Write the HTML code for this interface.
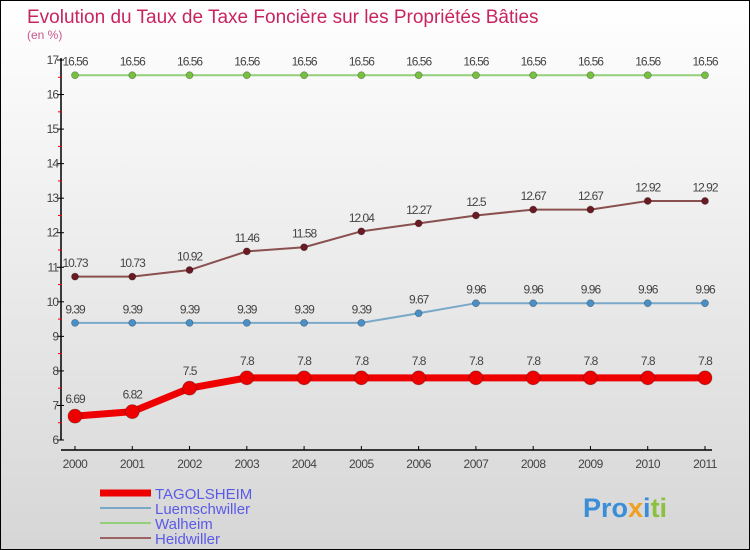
<!DOCTYPE html>
<html><head><meta charset="utf-8"><style>
body{margin:0}
#c{width:750px;height:550px;position:relative;overflow:hidden;box-sizing:border-box;border:1px solid #000;background:linear-gradient(#ffffff,#d6d6d6);font-family:"Liberation Sans",sans-serif}
</style></head><body>
<div id="c">
<svg width="750" height="550" style="position:absolute;left:-1px;top:-1px" id="svg">
<text x="27" y="23" font-size="19" fill="#c8245f">Evolution du Taux de Taxe Foncière sur les Propriétés Bâties</text>
<text x="27" y="39" font-size="12" fill="#c8588a">(en %)</text>
<g id="axes"></g><g id="series"></g>
<g>
<line x1="100" y1="493" x2="151" y2="493" stroke="#e00" stroke-width="7"/>
<text x="155" y="499" font-size="15" fill="#5a5ae8">TAGOLSHEIM</text>
<line x1="100" y1="508" x2="151" y2="508" stroke="#79a8c8" stroke-width="2"/>
<text x="155" y="514" font-size="15" fill="#5a5ae8">Luemschwiller</text>
<line x1="100" y1="523" x2="151" y2="523" stroke="#94d07a" stroke-width="2"/>
<text x="155" y="529" font-size="15" fill="#5a5ae8">Walheim</text>
<line x1="100" y1="538" x2="151" y2="538" stroke="#9a6464" stroke-width="2"/>
<text x="155" y="544" font-size="15" fill="#5a5ae8">Heidwiller</text>
</g>
<text x="583" y="517" font-size="27" font-weight="bold" fill="#3a8ed8">Pro<tspan fill="#f0a020">x</tspan><tspan fill="#3a8ed8">i</tspan><tspan fill="#8cc040">ti</tspan></text>
</svg>
</div>
<script>
const years=[2000,2001,2002,2003,2004,2005,2006,2007,2008,2009,2010,2011];
const tagolsheim=[6.69,6.82,7.5,7.8,7.8,7.8,7.8,7.8,7.8,7.8,7.8,7.8];
const luemschwiller=[9.39,9.39,9.39,9.39,9.39,9.39,9.67,9.96,9.96,9.96,9.96,9.96];
const walheim=[16.56,16.56,16.56,16.56,16.56,16.56,16.56,16.56,16.56,16.56,16.56,16.56];
const heidwiller=[10.73,10.73,10.92,11.46,11.58,12.04,12.27,12.5,12.67,12.67,12.92,12.92];
const yTicks=[6,7,8,9,10,11,12,13,14,15,16,17];
const NS="http://www.w3.org/2000/svg";
const x=i=>75+i*(630/(years.length-1));
const y=v=>440-(v-6)*(380/11);
function mk(t,a,p){const e=document.createElementNS(NS,t);for(const k in a)e.setAttribute(k,a[k]);p.appendChild(e);return e;}
const ax=document.getElementById('axes');
let l=mk('line',{x1:61,y1:58,x2:61,y2:440,stroke:'#000','stroke-width':1.5},ax);

l=mk('line',{x1:61,y1:450,x2:712,y2:450,stroke:'#000','stroke-width':1.5},ax);

yTicks.forEach(v=>{mk('line',{x1:57,y1:y(v),x2:64,y2:y(v),stroke:'#000'},ax);
if(v<17)mk('line',{x1:58,y1:y(v+0.5),x2:62,y2:y(v+0.5),stroke:'#e00'},ax);
const t=mk('text',{x:58,y:y(v)+4,'font-size':12,fill:'#444','text-anchor':'end','letter-spacing':'-1'},ax);t.textContent=v;
});
years.forEach((yr,i)=>{mk('line',{x1:x(i),y1:446,x2:x(i),y2:450,stroke:'#000'},ax);
const t=mk('text',{x:x(i),y:468,'font-size':12,fill:'#444','text-anchor':'middle','letter-spacing':'-0.5'},ax);t.textContent=yr;
});
const sg=document.getElementById('series');
function series(name,vals,col,dot,w,r){
const g=mk('g',{},sg);
const p=mk('polyline',{points:vals.map((v,i)=>x(i)+','+y(v)).join(' '),fill:'none',stroke:col,'stroke-width':w,'stroke-linejoin':'round'},g);

vals.forEach((v,i)=>{const c=mk('circle',{cx:x(i),cy:y(v),r:r,fill:dot,stroke:'rgba(0,0,0,0.3)','stroke-width':0.8},g);

const t=mk('text',{x:x(i),y:y(v)-(r+6),'font-size':12,fill:'#444','text-anchor':'middle','letter-spacing':'-1'},g);t.textContent=v;
});}
series('walheim',walheim,'#94d07a','#78c040',2,3.5);
series('heidwiller',heidwiller,'#8a5050','#6a1a22',2,3.5);
series('luemschwiller',luemschwiller,'#79a8c8','#4a90c8',2,3.5);
series('tagolsheim',tagolsheim,'#ee0000','#ee0000',7,7);
</script>
</body></html>
